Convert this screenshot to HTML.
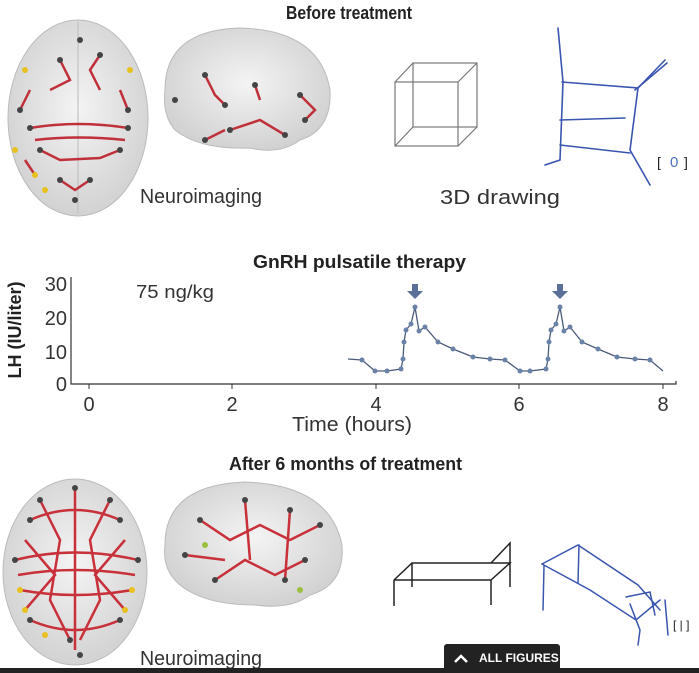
<!DOCTYPE html>
<html><head><meta charset="utf-8"><style>
html,body{margin:0;padding:0;background:#fff;}
svg{display:block;}
text{font-family:"Liberation Sans",sans-serif;}
</style></head><body>
<svg width="699" height="673" viewBox="0 0 699 673" xmlns="http://www.w3.org/2000/svg">
<defs>
<radialGradient id="bg" cx="50%" cy="45%" r="60%"><stop offset="0" stop-color="#f4f4f4"/><stop offset="1" stop-color="#cfcfcf"/></radialGradient>
</defs>
<text x="286" y="19" font-size="18" font-weight="bold" fill="#222" textLength="126" lengthAdjust="spacingAndGlyphs">Before treatment</text>

<ellipse cx="78" cy="118" rx="70" ry="98" fill="url(#bg)" stroke="#bbb"/>
<line x1="78" y1="22" x2="78" y2="214" stroke="#bbb"/>
<g stroke="#c0303a" stroke-width="2.5" fill="none">
<path d="M30 128 Q78 120 128 128"/><path d="M35 140 Q78 135 125 140"/><path d="M40 150 L60 160 L100 158 L120 150"/>
<path d="M50 90 L70 80 L60 60"/><path d="M100 90 L90 70 L100 55"/><path d="M20 110 L30 90"/><path d="M128 110 L120 90"/>
<path d="M60 180 L75 190 L90 180"/><path d="M25 160 L35 175"/>
</g>
<g fill="#444"><circle cx="30" cy="128" r="3"/><circle cx="128" cy="128" r="3"/><circle cx="60" cy="60" r="3"/><circle cx="100" cy="55" r="3"/><circle cx="20" cy="110" r="3"/><circle cx="128" cy="110" r="3"/><circle cx="60" cy="180" r="3"/><circle cx="90" cy="180" r="3"/><circle cx="75" cy="200" r="3"/><circle cx="40" cy="150" r="3"/><circle cx="120" cy="150" r="3"/><circle cx="80" cy="40" r="3"/></g>
<g fill="#e8c020"><circle cx="25" cy="70" r="3"/><circle cx="15" cy="150" r="3"/><circle cx="35" cy="175" r="3"/><circle cx="130" cy="70" r="3"/><circle cx="45" cy="190" r="3"/></g>

<path d="M165 90 Q165 30 240 28 Q320 30 330 90 Q332 130 300 140 Q280 155 250 148 Q200 150 175 130 Q162 115 165 90Z" fill="url(#bg)" stroke="#bbb"/>
<g stroke="#c0303a" stroke-width="2.5" fill="none"><path d="M205 75 L215 95 L225 105"/><path d="M230 130 L260 120 L285 135"/><path d="M300 95 L315 110 L305 120"/><path d="M255 85 L260 100"/><path d="M205 140 L225 130"/></g>
<g fill="#444"><circle cx="205" cy="75" r="3"/><circle cx="225" cy="105" r="3"/><circle cx="230" cy="130" r="3"/><circle cx="285" cy="135" r="3"/><circle cx="300" cy="95" r="3"/><circle cx="305" cy="120" r="3"/><circle cx="255" cy="85" r="3"/><circle cx="205" cy="140" r="3"/><circle cx="175" cy="100" r="3"/></g>

<text x="140" y="203" font-size="20" fill="#333" textLength="122" lengthAdjust="spacingAndGlyphs">Neuroimaging</text>

<g stroke="#777" stroke-width="1.2" fill="none"><rect x="395" y="82" width="63" height="64"/><rect x="413" y="63" width="64" height="64"/><path d="M395 82L413 63M458 82L477 63M395 146L413 127M458 146L477 127"/></g>
<text x="440" y="204" font-size="20" fill="#333" textLength="120" lengthAdjust="spacingAndGlyphs">3D drawing</text>
<g stroke="#3a55b0" stroke-width="1.6" fill="none" stroke-linecap="round">
<path d="M558 28 L563 82 L560 160 L545 165"/><path d="M562 82 L638 88 L665 60"/><path d="M638 88 L630 150 L650 185"/><path d="M560 120 L625 118"/><path d="M560 145 L630 153"/><path d="M635 90 L667 63"/>
</g>
<text x="657" y="167" font-size="14" fill="#222">[</text><text x="670" y="167" font-size="15" fill="#5070c0">0</text><text x="684" y="167" font-size="14" fill="#222">]</text>

<text x="253" y="268" font-size="18" font-weight="bold" fill="#222" textLength="213" lengthAdjust="spacingAndGlyphs">GnRH pulsatile therapy</text>
<text transform="translate(21,330) rotate(-90)" font-size="18" font-weight="bold" text-anchor="middle" fill="#222">LH (IU/liter)</text>
<g font-size="20" fill="#333" text-anchor="end"><text x="67" y="291">30</text><text x="67" y="325">20</text><text x="67" y="359">10</text><text x="67" y="391">0</text></g>
<path d="M71 277 V384 H676 V381" stroke="#333" stroke-width="1.2" fill="none"/>
<g stroke="#333"><line x1="89" y1="384" x2="89" y2="389"/><line x1="232" y1="384" x2="232" y2="389"/><line x1="376" y1="384" x2="376" y2="389"/><line x1="519" y1="384" x2="519" y2="389"/><line x1="663" y1="384" x2="663" y2="389"/></g>
<g font-size="20" fill="#333" text-anchor="middle"><text x="89" y="411">0</text><text x="232" y="411">2</text><text x="376" y="411">4</text><text x="519" y="411">6</text><text x="663" y="411">8</text></g>
<text x="292" y="431" font-size="20" fill="#333" textLength="120" lengthAdjust="spacingAndGlyphs">Time (hours)</text>
<text x="136" y="298" font-size="18" fill="#333" textLength="78" lengthAdjust="spacingAndGlyphs">75 ng/kg</text>
<polyline points="348,359 362,360 375,371 387,371 401,369 403,359 404,342 406,330 411,324 415,307 419,331 425,327 438,342 453,349 473,357 490,359 505,360 520,371 530,371 546,369 548,359 549,342 551,330 556,324 560,307 564,331 570,327 582,342 598,349 617,357 635,359 650,360 663,371" fill="none" stroke="#4a5a78" stroke-width="1.3"/>
<g fill="#6a82a8"><circle cx="362" cy="360" r="2.5"/><circle cx="375" cy="371" r="2.5"/><circle cx="387" cy="371" r="2.5"/><circle cx="401" cy="369" r="2.5"/><circle cx="403" cy="359" r="2.5"/><circle cx="404" cy="342" r="2.5"/><circle cx="406" cy="330" r="2.5"/><circle cx="411" cy="324" r="2.5"/><circle cx="415" cy="307" r="2.5"/><circle cx="419" cy="331" r="2.5"/><circle cx="425" cy="327" r="2.5"/><circle cx="438" cy="342" r="2.5"/><circle cx="453" cy="349" r="2.5"/><circle cx="473" cy="357" r="2.5"/><circle cx="490" cy="359" r="2.5"/><circle cx="505" cy="360" r="2.5"/><circle cx="520" cy="371" r="2.5"/><circle cx="530" cy="371" r="2.5"/><circle cx="546" cy="369" r="2.5"/><circle cx="548" cy="359" r="2.5"/><circle cx="549" cy="342" r="2.5"/><circle cx="551" cy="330" r="2.5"/><circle cx="556" cy="324" r="2.5"/><circle cx="560" cy="307" r="2.5"/><circle cx="564" cy="331" r="2.5"/><circle cx="570" cy="327" r="2.5"/><circle cx="582" cy="342" r="2.5"/><circle cx="598" cy="349" r="2.5"/><circle cx="617" cy="357" r="2.5"/><circle cx="635" cy="359" r="2.5"/><circle cx="650" cy="360" r="2.5"/></g>
<g fill="#5a7098"><path d="M412 284h6v7h5l-8 8l-8-8h5z"/><path d="M557 284h6v7h5l-8 8l-8-8h5z"/></g>

<text x="229" y="470" font-size="18" font-weight="bold" fill="#222" textLength="233" lengthAdjust="spacingAndGlyphs">After 6 months of treatment</text>
<ellipse cx="75" cy="572" rx="72" ry="93" fill="url(#bg)" stroke="#bbb"/>
<g stroke="#c8303a" stroke-width="2.5" fill="none">
<path d="M15 560 Q75 545 138 560"/><path d="M18 575 Q75 565 135 575"/><path d="M20 590 Q75 600 132 590"/><path d="M30 520 Q75 500 120 520"/><path d="M30 620 Q75 640 120 620"/><path d="M40 500 L60 540 L50 600 L70 640"/><path d="M110 500 L90 540 L100 600 L80 640"/><path d="M75 490 L75 650"/><path d="M25 540 L55 575 L25 610"/><path d="M125 540 L95 575 L125 610"/>
</g>
<g fill="#444"><circle cx="15" cy="560" r="3"/><circle cx="138" cy="560" r="3"/><circle cx="30" cy="520" r="3"/><circle cx="120" cy="520" r="3"/><circle cx="30" cy="620" r="3"/><circle cx="120" cy="620" r="3"/><circle cx="40" cy="500" r="3"/><circle cx="110" cy="500" r="3"/><circle cx="70" cy="640" r="3"/><circle cx="80" cy="655" r="3"/><circle cx="75" cy="488" r="3"/></g>
<g fill="#e8c020"><circle cx="20" cy="590" r="3"/><circle cx="132" cy="590" r="3"/><circle cx="25" cy="610" r="3"/><circle cx="125" cy="610" r="3"/><circle cx="45" cy="635" r="3"/></g>
<path d="M165 545 Q165 485 245 482 Q330 485 342 545 Q345 585 310 595 Q290 610 255 605 Q205 605 180 585 Q162 570 165 545Z" fill="url(#bg)" stroke="#bbb"/>
<g stroke="#c8303a" stroke-width="2.5" fill="none"><path d="M200 520 L230 540 L260 525 L290 540 L320 525"/><path d="M215 580 L245 560 L275 575 L305 560"/><path d="M245 500 L250 560"/><path d="M290 510 L285 580"/><path d="M185 555 L225 560"/></g>
<g fill="#444"><circle cx="200" cy="520" r="3"/><circle cx="320" cy="525" r="3"/><circle cx="215" cy="580" r="3"/><circle cx="305" cy="560" r="3"/><circle cx="245" cy="500" r="3"/><circle cx="290" cy="510" r="3"/><circle cx="185" cy="555" r="3"/><circle cx="285" cy="580" r="3"/></g>
<g fill="#9ac040"><circle cx="300" cy="590" r="3"/><circle cx="205" cy="545" r="3"/></g>
<text x="140" y="665" font-size="20" fill="#333" textLength="122" lengthAdjust="spacingAndGlyphs">Neuroimaging</text>

<g stroke="#222" stroke-width="1.5" fill="none"><path d="M394 580 L394 606 M394 580 L491 580 L491 605 M394 580 L412 563 L510 563 L491 580 M412 563 L412 587 M491 563 L510 543 L510 587"/></g>
<g stroke="#3a55b0" stroke-width="1.5" fill="none" stroke-linecap="round"><path d="M542 564 L578 545 L638 585 L660 610"/><path d="M542 564 L590 590 L636 620 L660 600"/><path d="M544 566 L543 610"/><path d="M579 545 L578 583"/><path d="M626 597 L650 592 L655 615"/><path d="M630 604 L640 630 L638 645"/><path d="M665 600 L668 635"/></g>
<text x="673" y="629" font-size="12" fill="#222">[ | ]</text>

<rect x="0" y="668" width="699" height="5" fill="#222"/>
<rect x="444" y="644" width="116" height="29" rx="3" fill="#222"/>
<path d="M455 662 L461 656 L467 662" stroke="#fff" stroke-width="2.5" fill="none"/>
<text x="479" y="662" font-size="12" font-weight="bold" fill="#fff">ALL FIGURES</text>
</svg>
</body></html>
